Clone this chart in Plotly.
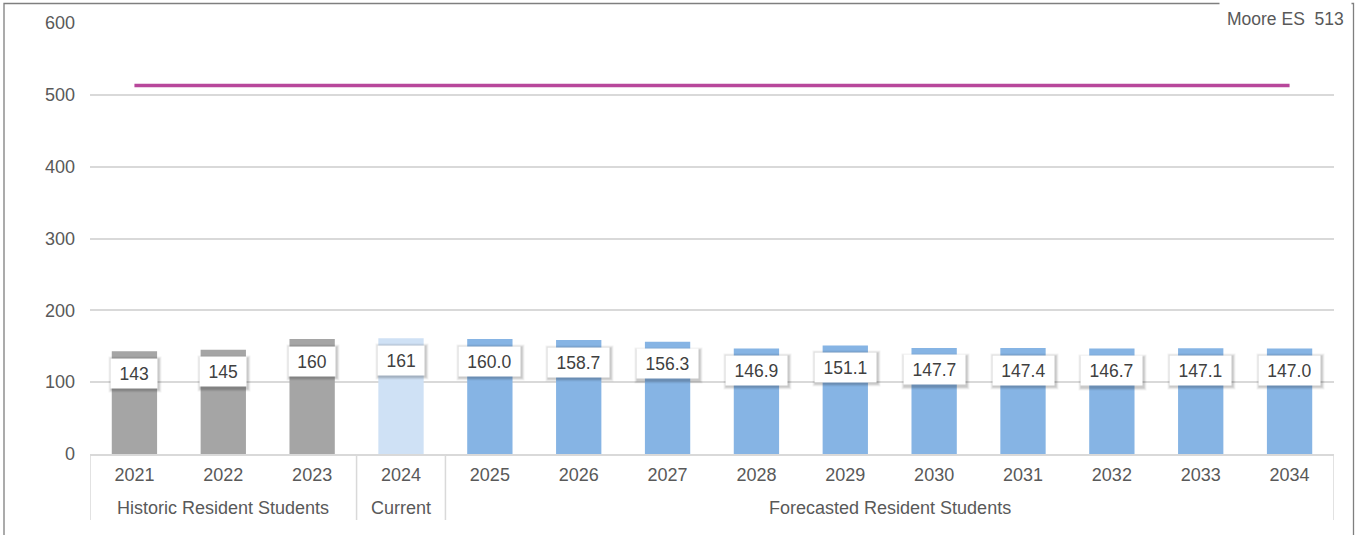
import plotly.graph_objects as go

years = ["2021", "2022", "2023", "2024", "2025", "2026", "2027", "2028", "2029",
         "2030", "2031", "2032", "2033", "2034"]
students = [143, 145, 160, 161, 160.0, 158.7, 156.3, 146.9, 151.1, 147.7, 147.4, 146.7, 147.1, 147.0]
labels = ["143", "145", "160", "161", "160.0", "158.7", "156.3", "146.9", "151.1",
          "147.7", "147.4", "146.7", "147.1", "147.0"]
groups = ["Historic Resident Students"] * 3 + ["Current"] + ["Forecasted Resident Students"] * 10
capacity_name = "Moore ES"
capacity = [513] * len(years)

GREY = "#A5A5A5"
CURRENT = "#CFE1F5"
FORECAST = "#86B4E4"
LINE = "#B8479B"
TXT = "#595959"
GRID = "#D9D9D9"
FONT = "Liberation Sans, Arial, sans-serif"
FS = 18

color_for = {"Historic Resident Students": GREY, "Current": CURRENT,
             "Forecasted Resident Students": FORECAST}
bar_colors = [color_for[g] for g in groups]
pos = list(range(len(years)))

W, H = 1357, 535
ML, MR, MT, MB = 90, 23, 23, 81
pw, ph = W - ML - MR, H - MT - MB

def px(x):
    return (x - ML) / pw

def py(y):
    return (H - MB - y) / ph

fig = go.Figure()
fig.add_trace(go.Bar(x=pos, y=students, marker=dict(color=bar_colors, line=dict(width=0)),
                     width=0.51, hoverinfo="y", showlegend=False))
fig.add_trace(go.Scatter(x=pos, y=capacity, mode="lines", line=dict(color=LINE, width=3.5),
                         showlegend=False, name=capacity_name))

anns = []
for i, (v, lab) in enumerate(zip(students, labels)):
    ndig = sum(c.isdigit() for c in lab)
    ndot = lab.count(".")
    tw = ndig * 0.556 * 17.5 + ndot * 0.278 * 17.5 + 7
    for grow, alpha in ((6, 0.05), (4, 0.07), (2, 0.10)):
        anns.append(dict(x=pos[i], y=v, xref="x", yref="y", text=lab, showarrow=False,
                         yanchor="middle", yshift=-23.5, xshift=1,
                         bgcolor=f"rgba(0,0,0,{alpha})", borderpad=5 + grow / 2,
                         width=tw, height=19,
                         font=dict(family=FONT, size=17.5, color="rgba(0,0,0,0)")))
    anns.append(dict(x=pos[i], y=v, xref="x", yref="y", text=lab, showarrow=False,
                     yanchor="middle", yshift=-22, bgcolor="white", borderpad=5,
                     width=tw, height=19,
                     font=dict(family=FONT, size=17.5, color="#404040")))

seen = []
for g in groups:
    if g not in seen:
        seen.append(g)

shapes = []
bounds = [-0.5]
for g in seen:
    idx = [i for i, gg in enumerate(groups) if gg == g]
    mid = (idx[0] + idx[-1]) / 2
    anns.append(dict(x=mid, y=-54 / ph, xref="x", yref="paper",
                     text=g, showarrow=False, yanchor="middle",
                     font=dict(family=FONT, size=FS, color=TXT)))
    bounds.append(idx[-1] + 0.5)
for b in bounds:
    shapes.append(dict(type="line", xref="x", yref="paper", x0=b, x1=b, y0=0, y1=-66 / ph,
                       line=dict(color=GRID, width=1.5)))

shapes.append(dict(type="rect", xref="paper", yref="paper", x0=px(4), x1=px(1353.5),
                   y0=py(H + 10), y1=py(3.5), line=dict(color="#7F7F7F", width=1.3),
                   fillcolor="rgba(0,0,0,0)", layer="below"))

anns.append(dict(x=px(1352), y=py(19), xref="paper", yref="paper", xanchor="right",
                 yanchor="middle", text=f"{capacity_name}  {capacity[-1]}", showarrow=False,
                 bgcolor="white", borderpad=7,
                 font=dict(family=FONT, size=17.5, color=TXT)))

fig.update_layout(
    width=W, height=H,
    margin=dict(l=ML, r=MR, t=MT, b=MB, pad=0),
    paper_bgcolor="white", plot_bgcolor="white",
    font=dict(family=FONT, size=FS, color=TXT),
    annotations=anns, shapes=shapes,
    xaxis=dict(range=[-0.5, len(years) - 0.5], tickvals=pos, ticktext=years,
               showgrid=False, zeroline=False, showline=True, linecolor=GRID, linewidth=1.5,
               ticks="", tickfont=dict(size=FS, color=TXT), ticklabelstandoff=4),
    yaxis=dict(range=[0, 600], tickvals=[0, 100, 200, 300, 400, 500, 600], showgrid=True,
               gridcolor=GRID, gridwidth=1.5, zeroline=False, showline=False,
               tickfont=dict(size=FS, color=TXT), ticklabelstandoff=14),
)

fig.write_html("out.html", config={"displayModeBar": False},
               post_script="document.body.style.margin='0';document.body.style.overflow='hidden';")
